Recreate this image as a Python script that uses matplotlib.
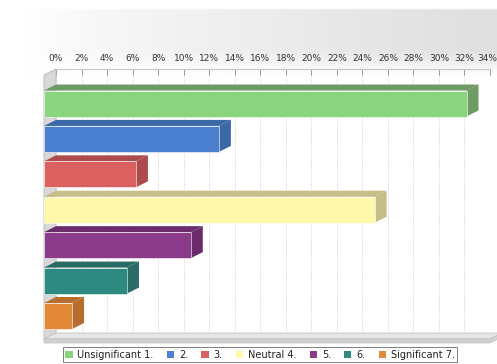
import numpy as np
import matplotlib.pyplot as plt
from matplotlib.patches import Polygon, Patch
from matplotlib.transforms import ScaledTranslation

# Survey answer shares (percent), top to bottom
labels = ["Unsignificant 1.", "2.", "3.", "Neutral 4.", "5.", "6.", "Significant 7."]
shares = [33.1, 13.7, 7.2, 25.9, 11.5, 6.5, 2.2]
front_colors = ["#8bd47f", "#4b80d0", "#da615f", "#fff7aa", "#8b3b8a", "#2e8a80", "#e38a3a"]
shade_colors = ["#6d9b63", "#3d68a8", "#ab4b4b", "#c5be88", "#6b2c6b", "#2a6b66", "#b56e30"]
ticks = list(range(0, 35, 2))
tick_labels = [f"{t}%" for t in ticks]

W, H, DPI = 497, 364, 100
fig = plt.figure(figsize=(W / DPI, H / DPI), dpi=DPI)
fig.patch.set_facecolor("white")

# soft grey header gradient behind the chart
bg = fig.add_axes([0, 0, 1, 1], zorder=-10)
bg.set_axis_off()
xs = np.linspace(0, 1, 300)
ys = np.linspace(0, 1, 200)
gx = np.clip((xs - 0.05) / 0.9, 0, 1) ** 0.8
ypix = ys * H
gy = np.where(ypix < 8, 0.0, np.clip((75 - ypix) / 25.0, 0, 1))
shade = 1 - 0.12 * np.outer(gy, gx)
bg.imshow(np.dstack([shade] * 3), extent=[0, 1, 1, 0], aspect="auto",
          interpolation="bilinear")
bg.set_xlim(0, 1)
bg.set_ylim(1, 0)

# back plane of the chart
left_px, right_px, top_px, bot_px = 56, 490, 69, 333
ax = fig.add_axes([left_px / W, 1 - bot_px / H, (right_px - left_px) / W,
                   (bot_px - top_px) / H])
x_max = 34
y_top, y_bot = -0.805, 6.65
ax.set_xlim(0, x_max)
ax.set_ylim(y_bot, y_top)
ax.set_facecolor("none")

px_x = x_max / (right_px - left_px)
px_y = (y_bot - y_top) / (bot_px - top_px)
DX = 12 * px_x          # depth offset to the left
DY = 6 * px_y           # depth offset downwards
bh = 26 * px_y          # bar thickness

for s in ["left", "right", "bottom"]:
    ax.spines[s].set_visible(False)
ax.spines["top"].set_color("#c8c8c8")
ax.spines["top"].set_linewidth(0.8)
ax.xaxis.tick_top()
ax.set_xticks(ticks)
ax.set_xticklabels(tick_labels)
ax.tick_params(axis="x", direction="in", length=4, width=0.7, color="#999999",
               labelsize=6.5, labelcolor="#333333", pad=4)
# keep the last percentage label inside the figure edge
last = ax.get_xticklabels()[-1]
last.set_transform(last.get_transform() + ScaledTranslation(-3 / DPI, 0, fig.dpi_scale_trans))
ax.set_yticks([])
ax.grid(axis="x", color="#d0d0d0", linestyle=(0, (1, 1.5)), linewidth=0.7)
ax.set_axisbelow(True)

# left wall
wall = Polygon([(-DX, y_top + DY), (0, y_top), (0, y_bot), (-DX, y_bot + DY)],
               closed=True, facecolor="#d8d8d8", edgecolor="#b8b8b8", lw=0.6,
               clip_on=False, zorder=1)
ax.add_patch(wall)

# floor
floor = Polygon([(-DX, y_bot + DY), (0, y_bot), (x_max + DX, y_bot),
                 (x_max, y_bot + DY)], closed=True, facecolor="#e6e6e6",
                edgecolor="#c4c4c4", lw=0.6, clip_on=False, zorder=1)
ax.add_patch(floor)
edge_h = 4 * px_y
floor_edge = Polygon([(-DX, y_bot + DY), (x_max, y_bot + DY), (x_max + DX, y_bot),
                      (x_max + DX, y_bot + edge_h), (x_max, y_bot + DY + edge_h),
                      (-DX, y_bot + DY + edge_h)], closed=True,
                     facecolor="#d2d2d2", edgecolor="#bdbdbd", lw=0.5,
                     clip_on=False, zorder=1)
ax.add_patch(floor_edge)

# 3D-style bars
for i, (v, fc, sc) in enumerate(zip(shares, front_colors, shade_colors)):
    ft = i + DY - bh / 2
    fb = i + DY + bh / 2
    top_face = Polygon([(-DX, ft), (v - DX, ft), (v, ft - DY), (0, ft - DY)],
                       closed=True, facecolor=sc, edgecolor="none",
                       clip_on=False, zorder=3)
    side_face = Polygon([(v - DX, ft), (v, ft - DY), (v, fb - DY), (v - DX, fb)],
                        closed=True, facecolor=sc, edgecolor="none",
                        clip_on=False, zorder=3)
    front = Polygon([(-DX, ft), (v - DX, ft), (v - DX, fb), (-DX, fb)],
                    closed=True, facecolor=fc, edgecolor="#ffffff", lw=0.4,
                    clip_on=False, zorder=4)
    ax.add_patch(top_face)
    ax.add_patch(side_face)
    ax.add_patch(front)

# legend along the bottom
handles = [Patch(facecolor=c, edgecolor="none") for c in front_colors]
leg = fig.legend(handles, labels, loc="center", ncol=7,
                 bbox_to_anchor=((62 + 458) / 2 / W, 1 - 354.5 / H),
                 fontsize=7, frameon=True, fancybox=False,
                 handlelength=0.75, handleheight=0.75, handletextpad=0.5,
                 columnspacing=1.35, borderpad=0.25, borderaxespad=0)
leg.get_frame().set_edgecolor("#444444")
leg.get_frame().set_linewidth(0.6)
for t in leg.get_texts():
    t.set_color("#222222")

fig.savefig("out.png", dpi=DPI)
